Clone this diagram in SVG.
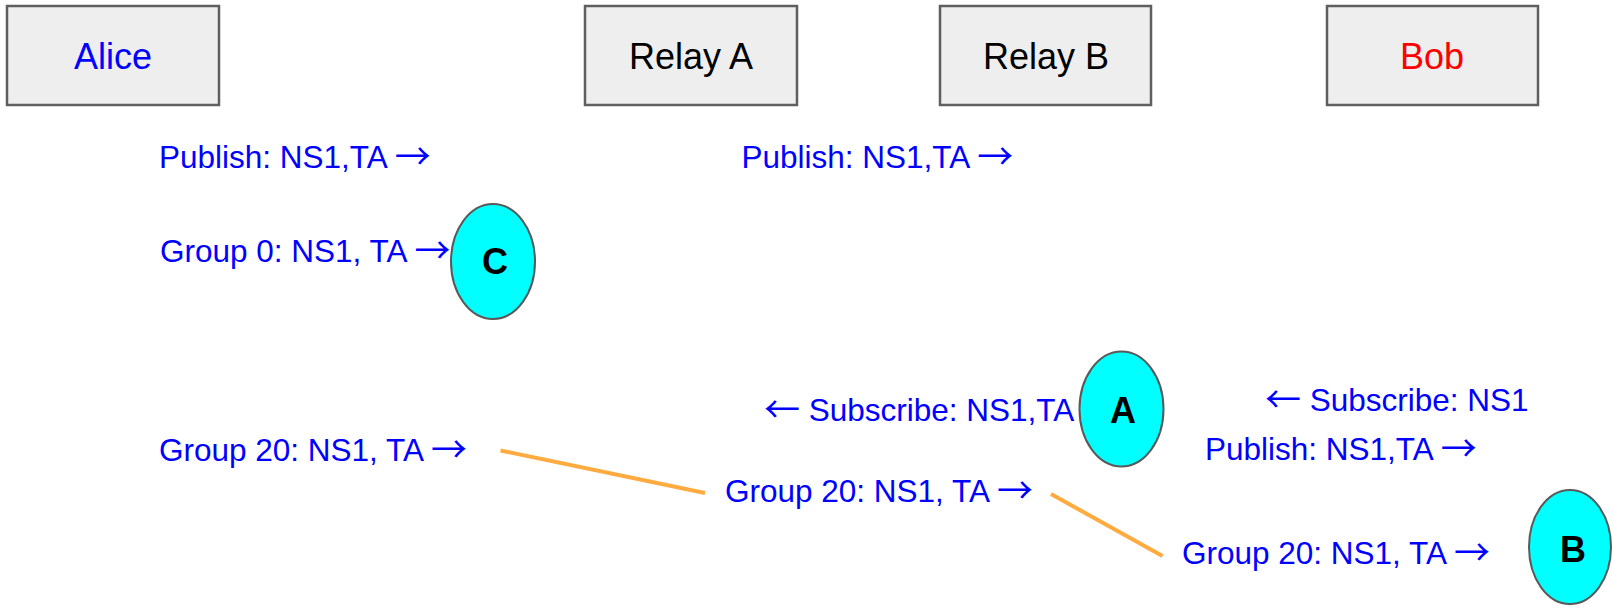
<svg xmlns="http://www.w3.org/2000/svg" width="1612" height="605" viewBox="0 0 1612 605">
<style>
.box{fill:#eeeeee;stroke:#5f5f5f;stroke-width:2.5}
.bt{font-family:"Liberation Sans",Arial,sans-serif;font-size:36px;text-anchor:middle}
.lbl{font-family:"Liberation Sans",Arial,sans-serif;font-size:31.5px;fill:#0000ff}
.ar{font-family:"Noto Sans CJK SC","Noto Sans CJK JP",sans-serif;font-size:36px;baseline-shift:-2px}
.ell{fill:#00ffff;stroke:#595959;stroke-width:2}
.et{font-family:"Liberation Sans",Arial,sans-serif;font-size:36px;font-weight:bold;fill:#000000;text-anchor:middle}
.con{stroke:#ffab40;stroke-width:4;fill:none}
</style>
<rect width="1612" height="605" fill="#ffffff"/>
<g id="alice"><rect class="box" x="7" y="6" width="212" height="99"/><text class="bt" x="113" y="69" fill="#0000ff">Alice</text></g>
<g id="relayA"><rect class="box" x="585" y="6" width="212" height="99"/><text class="bt" x="691" y="69" fill="#000000">Relay A</text></g>
<g id="relayB"><rect class="box" x="940" y="6" width="211" height="99"/><text class="bt" x="1046" y="69" fill="#000000">Relay B</text></g>
<g id="bob"><rect class="box" x="1327" y="6" width="211" height="99"/><text class="bt" x="1432" y="69" fill="#ff0000">Bob</text></g>
<g id="labels">
<text class="lbl" x="159" y="167.5">Publish: NS1,TA <tspan class="ar">→</tspan></text>
<text class="lbl" x="741.5" y="167.5">Publish: NS1,TA <tspan class="ar">→</tspan></text>
<text class="lbl" x="160" y="262">Group 0: NS1, TA <tspan class="ar">→</tspan></text>
<text class="lbl" x="764" y="421"><tspan class="ar">←</tspan> Subscribe: NS1,TA</text>
<text class="lbl" x="1265" y="410.5"><tspan class="ar">←</tspan> Subscribe: NS1</text>
<text class="lbl" x="1205" y="460">Publish: NS1,TA <tspan class="ar">→</tspan></text>
<text class="lbl" x="159" y="460.5">Group 20: NS1, TA <tspan class="ar">→</tspan></text>
<text class="lbl" x="725" y="501.5">Group 20: NS1, TA <tspan class="ar">→</tspan></text>
<text class="lbl" x="1182" y="564">Group 20: NS1, TA <tspan class="ar">→</tspan></text>
</g>
<g id="nodeC"><ellipse class="ell" cx="493" cy="261.5" rx="42" ry="57.5"/><text class="et" x="495" y="274">C</text></g>
<g id="nodeA"><ellipse class="ell" cx="1121.5" cy="409" rx="42" ry="57.5"/><text class="et" x="1123" y="422.5">A</text></g>
<g id="nodeB"><ellipse class="ell" cx="1570" cy="547" rx="41" ry="57"/><text class="et" x="1573" y="561.5">B</text></g>
<g id="connectors">
<line class="con" x1="500.5" y1="450.5" x2="705" y2="493"/>
<line class="con" x1="1051" y1="494" x2="1162.5" y2="556"/>
</g>
</svg>
